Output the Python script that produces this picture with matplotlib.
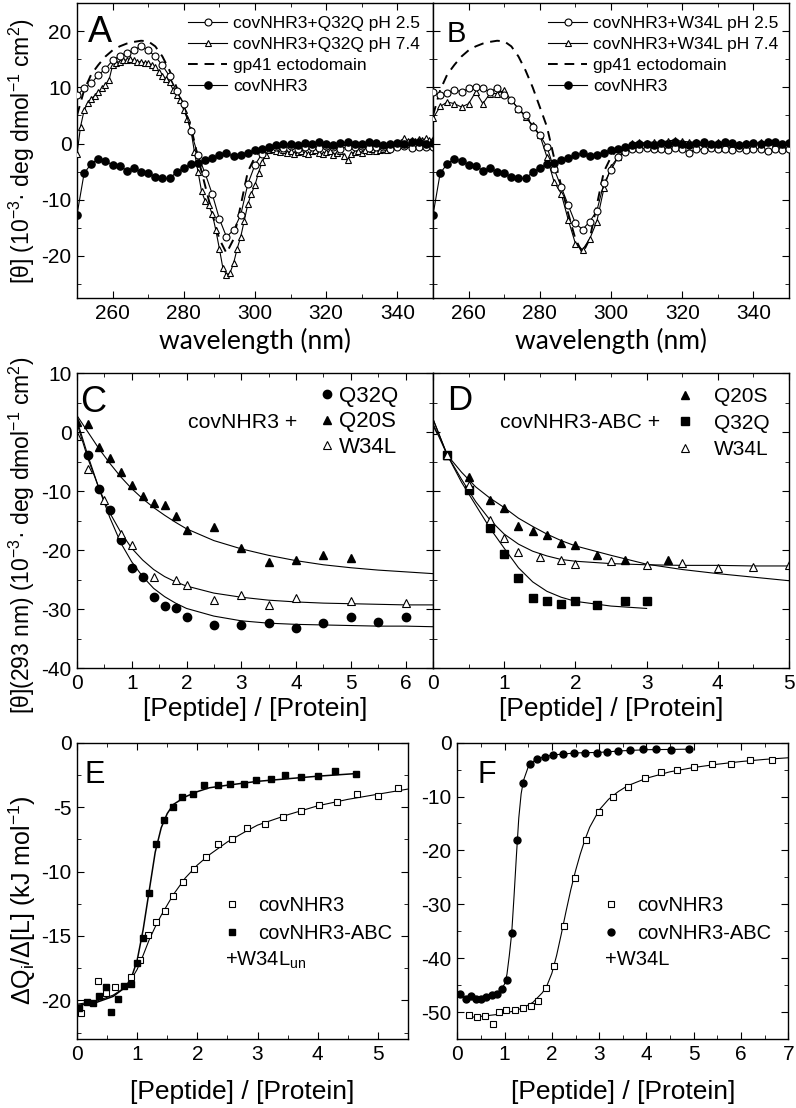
import numpy as np
import matplotlib
matplotlib.use('Agg')
import matplotlib.pyplot as plt
from matplotlib.ticker import MultipleLocator
from matplotlib.lines import Line2D

plt.rcParams['font.family'] = ['Liberation Sans', 'DejaVu Sans']
plt.rcParams['mathtext.default'] = 'regular'
plt.rcParams['axes.unicode_minus'] = False
plt.rcParams['xtick.direction'] = 'in'
plt.rcParams['ytick.direction'] = 'in'
plt.rcParams['xtick.top'] = True
plt.rcParams['ytick.right'] = True
plt.rcParams['xtick.major.size'] = 5
plt.rcParams['ytick.major.size'] = 5
plt.rcParams['xtick.minor.size'] = 3
plt.rcParams['ytick.minor.size'] = 3
plt.rcParams['axes.linewidth'] = 1.0

#%% CD spectra (panels A and B)

wl = np.arange(250, 351, 2)
wl_1nm = np.arange(250, 351)

gp41 = [5.0, 9.5, 12.3, 14.0, 15.5, 16.6, 17.3, 17.8, 18.1, 18.3, 18.2, 17.3, 15.5, 13.0,
        10.0, 6.5, 3.0, -2.5, -7.5, -12.5, -17.0, -19.5, -17.0, -11.0, -5.0, -2.4, -1.0, -0.5,
        -0.3, -0.3, -0.3, -0.3, -0.3, -0.3, -0.3, -0.3, -0.3, -0.3, -0.3, -0.3, -0.3, -0.3,
        -0.3, -0.3, -0.3, -0.3, -0.3, -0.3, -0.3, -0.3, -0.3]

covNHR3 = [-12.7, -5.3, -3.6, -2.7, -3.1, -3.8, -4.0, -4.8, -4.4, -5.1, -5.3, -5.9, -6.2, -6.2,
           -5.1, -4.4, -3.7, -3.5, -3.0, -2.6, -2.1, -1.7, -2.3, -2.0, -1.6, -1.2, -0.9, -0.6,
           -0.3, -0.1, 0.0, -0.2, 0.1, -0.1, 0.2, 0.0, -0.2, 0.1, 0.3, 0.0, -0.1, 0.2,
           0.1, -0.2, 0.0, 0.1, -0.1, 0.2, 0.3, 0.0, 0.1]

q32q_ph25 = [8.6, 9.8, 10.7, 12.2, 13.3, 14.8, 15.6, 16.1, 16.6, 17.4, 16.6, 15.5, 13.9, 12.0,
             9.3, 7.0, 2.2, -2.1, -5.3, -9.0, -13.4, -16.6, -15.4, -12.7, -7.2, -3.8, -1.8, -0.8,
             -0.6, -0.8, -0.5, -0.9, -0.7, -0.6, -0.8, -0.5, -0.7, -0.9, -0.6, -0.7, -0.5, -0.8,
             -0.6, -0.7, -0.9, -0.6, -0.5, -0.8, -0.7, -0.6, -0.7]

q32q_ph74 = [-1.9, 3.0, 5.9, 7.2, 8.0, 8.5, 9.2, 9.8, 10.5, 11.3,
             13.9, 14.4, 14.6, 14.8, 14.9, 15.0, 14.8, 14.6, 14.5, 14.4,
             14.3, 14.0, 13.6, 12.8, 12.1, 11.5, 10.9, 9.6, 8.6, 7.7,
             5.9, 4.4, 2.4, -1.5, -5.0, -8.5, -10.2, -11.0, -12.5, -15.4,
             -18.7, -22.2, -23.4, -23.0, -21.3, -18.7, -16.6, -13.7, -10.8, -8.9,
             -7.4, -5.2, -3.3, -2.1, -1.2,
             -1.0, -1.3, -1.5, -1.2, -1.6, -1.4, -1.8, -1.5, -1.3, -1.7,
             -1.9, -1.4, -1.2, -1.6, -1.8, -1.5, -1.3, -2.0, -1.6, -1.4,
             -2.2, -3.0, -1.8, -1.5, -1.3, -1.6, -1.2, -1.4, -1.0, -1.3,
             -1.1, -0.9, -1.2, -0.7, -0.4, -0.2, 0.3, 0.9, 0.5, 0.7,
             0.4, 0.8, 0.6, 0.9, 0.7, 0.8]

w34l_ph25 = [9.2, 8.6, 9.0, 9.6, 9.2, 9.8, 10.1, 9.8, 9.2, 9.9, 8.6, 7.7, 6.2, 5.0,
             2.9, 1.5, -0.6, -4.5, -7.7, -11.0, -14.2, -15.3, -13.9, -12.0, -7.1, -4.7, -2.4, -1.5,
             -0.9, -1.0, -0.8, -1.0, -0.9, -1.1, -0.8, -1.0, -1.6, -0.9, -1.2, -0.8, -1.0, -0.9,
             -1.1, -0.8, -1.2, -1.0, -0.9, -1.3, -1.0, -1.1, -1.0]

w34l_ph74 = [4.5, 6.6, 7.4, 7.1, 6.5, 7.1, 9.2, 7.1, 8.9, 8.9, 9.5, 7.7, 6.2, 4.7,
             3.3, 1.5, -2.4, -6.8, -8.9, -13.6, -17.8, -18.9, -17.0, -13.9, -8.0, -4.1, -2.4, -1.0,
             0.1, 0.2, 0.1, 0.3, 0.2, 0.5, 0.6, 0.4, 0.3, 0.2, 0.1, 0.0, 0.2, 0.1,
             0.0, -0.1, 0.1, 0.0, 0.2, 0.3, 0.1, 0.0, 0.2]

#%% CD titrations at 293 nm (panels C and D)

c_x_q32q = [0.2, 0.4, 0.6, 0.8, 1.0, 1.2, 1.4, 1.6, 1.8, 2.0, 2.5, 3.0, 3.5, 4.0, 4.5, 5.0, 5.5, 6.0]
c_y_q32q = [-3.9, -9.6, -13.2, -18.3, -23.1, -24.5, -27.9, -29.5, -29.8, -31.4, -32.7, -32.7,
            -32.4, -33.3, -32.4, -31.4, -32.2, -31.4]
c_x_q20s = [0, 0.2, 0.4, 0.6, 0.8, 1.0, 1.2, 1.4, 1.6, 1.8, 2.0, 2.5, 3.0, 3.5, 4.0, 4.5, 5.0]
c_y_q20s = [1.7, 1.4, -2.6, -4.4, -6.8, -8.9, -10.9, -12.0, -12.4, -14.3, -16.6, -16.1, -19.7,
            -22.0, -21.7, -20.9, -21.4]
c_x_w34l = [0, 0.2, 0.5, 0.8, 1.0, 1.4, 1.8, 2.0, 2.5, 3.0, 3.5, 4.0, 5.0, 6.0]
c_y_w34l = [-0.6, -6.2, -11.6, -17.2, -19.2, -24.5, -25.1, -25.9, -28.4, -27.6, -29.3, -28.1,
            -28.7, -29.0]

c_fit_x = [0, 0.2, 0.4, 0.6, 0.8, 1.0, 1.2, 1.4, 1.6, 1.8, 2.0, 2.5, 3.0, 3.5, 4.0, 4.5, 5.0, 5.5, 6.0, 6.5]
c_fit_q32q = [2.0, -4.0, -9.5, -14.5, -18.8, -22.0, -24.5, -26.5, -27.9, -29.0, -29.9, -31.2,
              -32.0, -32.4, -32.6, -32.7, -32.8, -32.9, -32.9, -33.0]
c_fit_w34l = [1.5, -4.5, -9.5, -13.7, -17.0, -19.7, -21.7, -23.3, -24.5, -25.4, -26.1, -27.3,
              -28.0, -28.5, -28.8, -29.0, -29.1, -29.2, -29.3, -29.3]
c_fit_q20s = [2.8, 0.0, -2.8, -5.3, -7.6, -9.6, -11.3, -12.8, -14.1, -15.3, -16.4, -18.4,
              -19.8, -20.9, -21.8, -22.5, -23.0, -23.4, -23.7, -24.0]

d_x_q20s = [0.2, 0.5, 0.8, 1.0, 1.2, 1.4, 1.6, 1.8, 2.0, 2.3, 2.7, 3.3]
d_y_q20s = [-3.9, -7.7, -11.6, -12.8, -16.0, -16.8, -17.4, -18.8, -19.2, -20.9, -21.7, -21.7]
d_x_q32q = [0.2, 0.5, 0.8, 1.0, 1.2, 1.4, 1.6, 1.8, 2.0, 2.3, 2.7, 3.0]
d_y_q32q = [-3.9, -9.8, -16.3, -20.7, -24.8, -28.2, -28.7, -29.2, -28.6, -29.3, -28.6, -28.6]
d_x_w34l = [0, 0.2, 0.5, 0.8, 1.0, 1.2, 1.5, 1.8, 2.0, 2.5, 3.0, 3.5, 4.0, 4.5, 5.0]
d_y_w34l = [0.3, -3.9, -9.0, -14.9, -18.0, -20.4, -21.1, -21.7, -22.4, -21.9, -22.5, -22.2,
            -23.1, -22.8, -22.5]

d_fit_x = [0, 0.2, 0.4, 0.6, 0.8, 1.0, 1.2, 1.4, 1.6, 1.8, 2.0, 2.5, 3.0, 3.5, 4.0, 4.5, 5.0]
d_fit_q20s = [1.4, -3.9, -6.8, -9.3, -11.2, -12.8, -14.6, -16.0, -17.3, -18.4, -19.3, -20.9,
              -22.4, -23.3, -24.0, -24.6, -25.2]
d_fit_w34l = [2.2, -3.9, -8.0, -11.8, -14.9, -17.3, -19.0, -20.2, -21.0, -21.6, -21.9, -22.3,
              -22.5, -22.6, -22.6, -22.7, -22.7]
d_fit_x_q32q = [0, 0.2, 0.4, 0.6, 0.8, 1.0, 1.2, 1.4, 1.6, 1.8, 2.0, 2.5, 3.0]
d_fit_q32q = [2.2, -3.9, -8.5, -12.4, -16.3, -19.7, -23.0, -25.4, -27.0, -28.0, -28.7, -29.5, -29.9]

#%% ITC (panels E and F)

e_x_nhr3 = [0.07, 0.35, 0.49, 0.63, 0.9, 1.04, 1.18, 1.32, 1.46, 1.59, 1.76, 1.94, 2.14, 2.34,
            2.58, 2.83, 3.13, 3.42, 3.73, 4.02, 4.32, 4.65, 5.0, 5.33]
e_y_nhr3 = [-21.0, -18.5, -19.4, -19.0, -18.2, -16.9, -14.9, -13.9, -13.1, -11.9, -10.8, -9.8,
            -8.9, -7.9, -7.5, -6.6, -6.3, -5.8, -5.3, -4.8, -4.6, -4.0, -4.1, -3.5]
e_x_abc = [0.04, 0.17, 0.27, 0.36, 0.48, 0.57, 0.68, 0.78, 0.89, 0.99, 1.1, 1.2, 1.32, 1.44,
           1.59, 1.75, 1.92, 2.11, 2.34, 2.55, 2.77, 2.98, 3.22, 3.46, 3.73, 4.0, 4.28, 4.63]
e_y_abc = [-20.6, -20.1, -20.2, -19.7, -19.0, -20.9, -19.9, -18.9, -18.7, -17.1, -15.2, -11.7,
           -7.9, -6.0, -5.0, -4.2, -4.0, -3.3, -3.3, -3.2, -3.2, -2.9, -2.8, -2.5, -2.7, -2.6,
           -2.2, -2.4]

e_fit_x_nhr3 = [0, 0.3, 0.6, 0.8, 0.9, 1.0, 1.1, 1.2, 1.3, 1.4, 1.6, 1.8, 2.0, 2.2, 2.5, 2.8,
                3.0, 3.5, 4.0, 4.5, 5.0, 5.5]
e_fit_nhr3 = [-20.3, -20.1, -19.6, -19.0, -18.4, -17.6, -16.5, -15.3, -14.3, -13.4, -11.8, -10.5,
              -9.5, -8.7, -7.7, -6.9, -6.4, -5.6, -4.9, -4.4, -4.0, -3.6]
e_fit_x_abc = [0, 0.3, 0.6, 0.8, 0.9, 1.0, 1.1, 1.2, 1.3, 1.4, 1.5, 1.6, 1.8, 2.0, 2.2, 2.5,
               3.0, 3.5, 4.0, 4.63]
e_fit_abc = [-20.4, -20.2, -19.7, -19.0, -18.3, -16.9, -14.5, -11.5, -8.5, -6.6, -5.5, -4.8,
             -4.2, -3.8, -3.5, -3.3, -3.0, -2.8, -2.6, -2.4]

f_x_nhr3 = [0.25, 0.42, 0.58, 0.75, 0.89, 1.04, 1.22, 1.38, 1.55, 1.71, 1.87, 2.05, 2.25, 2.49,
            2.72, 3.0, 3.3, 3.62, 3.97, 4.31, 4.65, 5.0, 5.39, 5.78, 6.2, 6.65]
f_y_nhr3 = [-50.6, -50.9, -50.8, -52.2, -50.0, -49.6, -49.7, -49.3, -48.8, -48.0, -45.5, -41.5,
            -34.1, -25.2, -18.0, -12.9, -10.0, -8.3, -6.6, -5.4, -5.0, -4.6, -4.0, -4.0, -3.3, -3.2]
f_x_abc = [0.06, 0.18, 0.29, 0.39, 0.5, 0.61, 0.73, 0.83, 0.94, 1.06, 1.16, 1.27, 1.4, 1.54,
           1.69, 1.85, 2.03, 2.24, 2.47, 2.71, 2.95, 3.17, 3.4, 3.65, 3.93, 4.21, 4.52, 4.9]
f_y_abc = [-46.6, -47.6, -47.0, -47.5, -47.6, -47.2, -46.9, -46.6, -45.8, -44.0, -35.4, -18.0,
           -7.4, -4.0, -3.0, -2.6, -2.3, -2.1, -1.9, -2.0, -2.0, -1.8, -1.5, -1.4, -1.1, -1.2,
           -1.4, -1.2]

f_fit_x_nhr3 = [0.25, 0.5, 0.8, 1.0, 1.2, 1.4, 1.6, 1.8, 1.9, 2.0, 2.1, 2.2, 2.3, 2.4, 2.5, 2.6,
                2.7, 2.8, 3.0, 3.2, 3.4, 3.6, 4.0, 4.5, 5.0, 5.5, 6.0, 6.5, 7.0]
f_fit_nhr3 = [-51.0, -50.8, -50.5, -50.2, -49.8, -49.2, -48.2, -46.4, -45.0, -42.8, -39.5, -35.5,
              -31.3, -27.3, -23.8, -20.7, -18.0, -15.7, -12.5, -10.5, -9.1, -8.0, -6.6, -5.4,
              -4.6, -4.0, -3.5, -3.1, -2.8]
f_fit_x_abc = [0.06, 0.3, 0.6, 0.9, 1.0, 1.05, 1.1, 1.15, 1.2, 1.25, 1.3, 1.35, 1.4, 1.5, 1.6,
               1.8, 2.0, 2.5, 3.0, 3.5, 4.0, 4.5, 4.9]
f_fit_abc = [-47.0, -47.3, -47.2, -46.2, -44.8, -43.0, -39.5, -35.4, -28.5, -21.0, -14.0, -9.5,
             -7.0, -4.5, -3.5, -2.7, -2.3, -1.9, -1.8, -1.5, -1.3, -1.25, -1.2]

#%% figure

fig = plt.figure(figsize=(7.96, 11.08), dpi=100)

axA = fig.add_axes([0.0967, 0.7310, 0.4472, 0.2662])
axB = fig.add_axes([0.5440, 0.7310, 0.4472, 0.2662])
axC = fig.add_axes([0.0967, 0.3971, 0.4472, 0.2662])
axD = fig.add_axes([0.5440, 0.3971, 0.4472, 0.2662])
axE = fig.add_axes([0.0967, 0.0623, 0.4158, 0.2674])
axF = fig.add_axes([0.5745, 0.0623, 0.4158, 0.2674])

tick_fs = 15
lw = 0.8
ms = 5
dash = (0, (5, 3.5))
xlab = '[Peptide] / [Protein]'

ylab_cd = '[θ] (10$^{-3}$· deg dmol$^{-1}$ cm$^{2}$)'


def cd_panel(ax, ph25, ph74, ph74_x, name):
    ax.plot(wl, gp41, color='black', lw=1.4, ls=dash, zorder=2)
    ax.plot(ph74_x, ph74, color='black', lw=lw, marker='^', ms=ms, mfc='white', mew=0.8, zorder=3)
    ax.plot(wl, ph25, color='black', lw=lw, marker='o', ms=ms, mfc='white', mew=0.8, zorder=4)
    ax.plot(wl, covNHR3, color='black', lw=lw, marker='o', ms=5.2, mfc='black', zorder=5)
    ax.set_xlim(250, 350)
    ax.set_ylim(-27.5, 25)
    ax.set_xticks([260, 280, 300, 320, 340])
    ax.xaxis.set_minor_locator(MultipleLocator(10))
    ax.yaxis.set_major_locator(MultipleLocator(10))
    ax.yaxis.set_minor_locator(MultipleLocator(5))
    ax.set_xlabel('wavelength (nm)', family='Lato', fontsize=19, labelpad=4)
    handles = [Line2D([], [], color='black', lw=lw, marker='o', ms=ms, mfc='white', mew=0.8),
               Line2D([], [], color='black', lw=lw, marker='^', ms=ms, mfc='white', mew=0.8),
               Line2D([], [], color='black', lw=1.4, ls=dash),
               Line2D([], [], color='black', lw=lw, marker='o', ms=5.2, mfc='black')]
    labels = ['covNHR3+' + name + ' pH 2.5', 'covNHR3+' + name + ' pH 7.4',
              'gp41 ectodomain', 'covNHR3']
    return handles, labels


h, l = cd_panel(axA, q32q_ph25, q32q_ph74, wl_1nm, 'Q32Q')
leg = axA.legend(h, l, loc='upper left', bbox_to_anchor=(0.312, 0.958), frameon=False,
                 fontsize=12.5, handlelength=2.25, handletextpad=0.35, labelspacing=0.34,
                 borderpad=0, borderaxespad=0)
leg.set_zorder(10)
axA.set_ylabel(ylab_cd, fontsize=16.5)
axA.yaxis.set_label_coords(-0.112, 0.5)

h, l = cd_panel(axB, w34l_ph25, w34l_ph74, wl, 'W34L')
axB.legend(h, l, loc='upper left', bbox_to_anchor=(0.323, 0.958), frameon=False,
           fontsize=12.5, handlelength=2.25, handletextpad=0.35, labelspacing=0.34,
           borderpad=0, borderaxespad=0)
axB.tick_params(labelleft=False)

# C
axC.plot(c_fit_x, c_fit_q32q, color='black', lw=lw)
axC.plot(c_fit_x, c_fit_w34l, color='black', lw=lw)
axC.plot(c_fit_x, c_fit_q20s, color='black', lw=lw)
axC.plot(c_x_q32q, c_y_q32q, 'o', color='black', ms=6, label='Q32Q')
axC.plot(c_x_q20s, c_y_q20s, '^', color='black', ms=6, label='Q20S')
axC.plot(c_x_w34l, c_y_w34l, '^', color='black', ms=6, mfc='white', mew=0.8, label='W34L')
axC.set_xlim(0, 6.5)
axC.set_ylim(-40, 10)
axC.xaxis.set_major_locator(MultipleLocator(1))
axC.xaxis.set_minor_locator(MultipleLocator(0.5))
axC.yaxis.set_major_locator(MultipleLocator(10))
axC.yaxis.set_minor_locator(MultipleLocator(5))
axC.legend(loc='upper left', bbox_to_anchor=(0.684, 0.956), frameon=False, fontsize=16,
           handlelength=0.6, handletextpad=0.25, labelspacing=0.2, borderpad=0, borderaxespad=0)
axC.text(0.312, 0.831, 'covNHR3 +', transform=axC.transAxes, fontsize=15.3, va='center')
axC.set_xlabel(xlab, fontsize=19, labelpad=3)
axC.set_ylabel('[θ](293 nm) (10$^{-3}$· deg dmol$^{-1}$ cm$^{2}$)', fontsize=16.5)
axC.yaxis.set_label_coords(-0.112, 0.45)

# D
axD.plot(d_fit_x, d_fit_q20s, color='black', lw=lw)
axD.plot(d_fit_x, d_fit_w34l, color='black', lw=lw)
axD.plot(d_fit_x_q32q, d_fit_q32q, color='black', lw=lw)
axD.plot(d_x_q20s, d_y_q20s, '^', color='black', ms=6, label='Q20S')
axD.plot(d_x_q32q, d_y_q32q, 's', color='black', ms=5.2, label='Q32Q')
axD.plot(d_x_w34l, d_y_w34l, '^', color='black', ms=6, mfc='white', mew=0.8, label='W34L')
axD.set_xlim(0, 5)
axD.set_ylim(-40, 10)
axD.xaxis.set_major_locator(MultipleLocator(1))
axD.xaxis.set_minor_locator(MultipleLocator(0.5))
axD.yaxis.set_major_locator(MultipleLocator(10))
axD.yaxis.set_minor_locator(MultipleLocator(5))
axD.tick_params(labelleft=False)
axD.legend(loc='upper left', bbox_to_anchor=(0.685, 0.953), frameon=False, fontsize=15,
           handlelength=0.8, handletextpad=1.0, labelspacing=0.37, borderpad=0, borderaxespad=0)
axD.text(0.188, 0.831, 'covNHR3-ABC +', transform=axD.transAxes, fontsize=15.3, va='center')
axD.set_xlabel(xlab, fontsize=19, labelpad=3)

# E
axE.plot(e_fit_x_nhr3, e_fit_nhr3, color='black', lw=lw)
axE.plot(e_fit_x_abc, e_fit_abc, color='black', lw=1.1)
axE.plot(e_x_nhr3, e_y_nhr3, 's', color='black', ms=4.5, mfc='white', mew=0.8, label='covNHR3')
axE.plot(e_x_abc, e_y_abc, 's', color='black', ms=5, label='covNHR3-ABC')
axE.set_xlim(0, 5.5)
axE.set_ylim(-23, 0)
axE.xaxis.set_major_locator(MultipleLocator(1))
axE.xaxis.set_minor_locator(MultipleLocator(0.5))
axE.yaxis.set_major_locator(MultipleLocator(5))
axE.yaxis.set_minor_locator(MultipleLocator(2.5))
axE.legend(loc='upper left', bbox_to_anchor=(0.445, 0.483), frameon=False, fontsize=14.5,
           handlelength=0.8, handletextpad=0.9, labelspacing=0.45, borderpad=0, borderaxespad=0)
axE.text(0.447, 0.267, '+W34L$_{un}$', transform=axE.transAxes, fontsize=14.5, va='center')
axE.set_xlabel(xlab, fontsize=19, labelpad=12)
axE.set_ylabel('ΔQ$_{i}$/Δ[L] (kJ mol$^{-1}$)', fontsize=18)
axE.yaxis.set_label_coords(-0.118, 0.47)

# F
axF.plot(f_fit_x_nhr3, f_fit_nhr3, color='black', lw=lw)
axF.plot(f_fit_x_abc, f_fit_abc, color='black', lw=lw)
axF.plot(f_x_nhr3, f_y_nhr3, 's', color='black', ms=4.5, mfc='white', mew=0.8, label='covNHR3')
axF.plot(f_x_abc, f_y_abc, 'o', color='black', ms=5, label='covNHR3-ABC')
axF.set_xlim(0, 7)
axF.set_ylim(-55, 0)
axF.xaxis.set_major_locator(MultipleLocator(1))
axF.xaxis.set_minor_locator(MultipleLocator(0.5))
axF.yaxis.set_major_locator(MultipleLocator(10))
axF.yaxis.set_minor_locator(MultipleLocator(5))
axF.legend(loc='upper left', bbox_to_anchor=(0.44, 0.483), frameon=False, fontsize=14.5,
           handlelength=0.8, handletextpad=0.9, labelspacing=0.45, borderpad=0, borderaxespad=0)
axF.text(0.446, 0.267, '+W34L', transform=axF.transAxes, fontsize=14.5, va='center')
axF.set_xlabel(xlab, fontsize=19, labelpad=12)

for ax in [axA, axB, axC, axD, axE, axF]:
    ax.tick_params(which='both', labelsize=tick_fs, pad=4)

# panel letters
axA.text(0.031, 0.869, 'A', transform=axA.transAxes, fontsize=26)
axB.text(0.039, 0.869, 'B', transform=axB.transAxes, fontsize=21)
axC.text(0.01, 0.869, 'C', transform=axC.transAxes, fontsize=26)
axD.text(0.039, 0.875, 'D', transform=axD.transAxes, fontsize=25)
axE.text(0.024, 0.863, 'E', transform=axE.transAxes, fontsize=22)
axF.text(0.06, 0.864, 'F', transform=axF.transAxes, fontsize=22)

fig.savefig('out.png', dpi=100)
